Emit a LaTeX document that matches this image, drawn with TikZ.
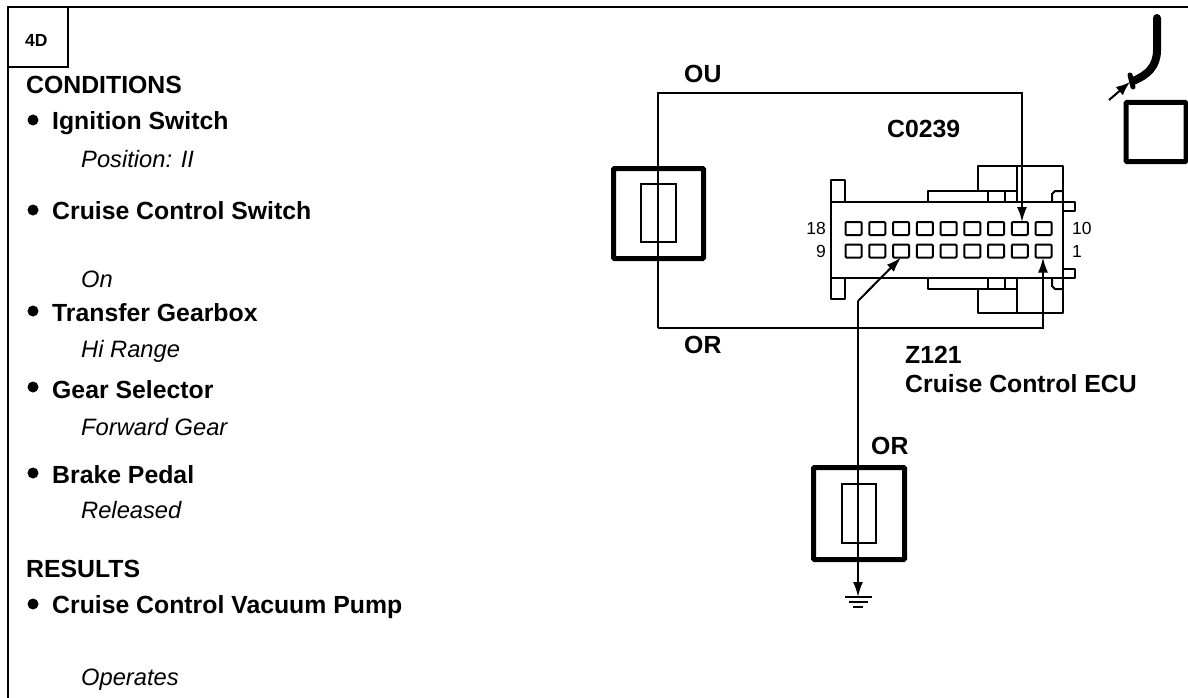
\documentclass[tikz,border=0pt]{standalone}
\usepackage{fontspec}
\setmainfont{Liberation Sans}
\usetikzlibrary{arrows.meta}
\tikzset{
  x=1pt,y=-1pt,
  hd/.style={anchor=base west,font=\fontsize{24.8}{28}\selectfont\bfseries,inner sep=0pt},
  it/.style={anchor=base west,font=\fontsize{23.7}{28}\selectfont\itshape,inner sep=0pt},
  num/.style={font=\fontsize{17.5}{20}\selectfont,inner sep=0pt},
  dotmark/.style={circle,fill=black,inner sep=0pt,minimum size=11pt},
  heavybox/.style={draw,line width=5pt,rounded corners=1pt,inner sep=0pt,outer sep=0pt},
  thinbox/.style={draw,line width=2pt,inner sep=0pt,outer sep=0pt},
  pinbox/.style={draw,line width=2pt,inner sep=0pt,outer sep=0pt,minimum width=16pt,minimum height=13pt,rounded corners=1pt},
  wire/.style={line width=2pt},
  tip/.style={-{Latex[length=15pt,width=10pt]}},
  part/.style={line width=2pt,line join=round},
}
\begin{document}
\begin{tikzpicture}
\useasboundingbox (0,0) rectangle (1188,698);
% frame
\coordinate (fa) at (8,698);\coordinate (fb) at (8,7);\coordinate (fc) at (1188,7);
\draw[line width=2pt] (fa) -- (fb) -- (fc);
\node[draw,line width=2pt,outer sep=0pt,anchor=north west,minimum width=60pt,minimum height=60pt,inner sep=0pt] (tagbox) at (8,7) {};
\node[anchor=base west,inner sep=0pt,font=\fontsize{17.5}{20}\selectfont\bfseries] (tag) at (25,47) {4D};
% left text
\node[hd] (t1) at (26,94) {CONDITIONS};
\node[dotmark] (d1) at (33,120) {};
\node[hd] (t2) at (52,130) {Ignition Switch};
\node[it] (t3) at (81,167) {Position: II};
\node[dotmark] (d2) at (33,210) {};
\node[hd] (t4) at (52,219) {Cruise Control Switch};
\node[it] (t5) at (81,287) {On};
\node[dotmark] (d3) at (33,311) {};
\node[hd] (t6) at (52,321) {Transfer Gearbox};
\node[it] (t7) at (81,357) {Hi Range};
\node[dotmark] (d4) at (33,387) {};
\node[hd] (t8) at (52,398) {Gear Selector};
\node[it] (t9) at (81,435) {Forward Gear};
\node[dotmark] (d5) at (33,473) {};
\node[hd] (t10) at (52,483) {Brake Pedal};
\node[it] (t11) at (81,518) {Released};
\node[hd] (t12) at (26,577) {RESULTS};
\node[dotmark] (d6) at (33,604) {};
\node[hd] (t13) at (52,613) {Cruise Control Vacuum Pump};
\node[it] (t14) at (81,685) {Operates};
% diagram labels
\node[hd] (ou) at (684,83) {OU};
\node[hd] (or1) at (684,353) {OR};
\node[hd] (cn) at (887,138) {C0239};
\node[hd] (z1) at (905,363) {Z121};
\node[hd] (z2) at (905,392) {Cruise Control ECU};
\node[hd] (or2) at (871,454) {OR};
% connector body
\node[draw,part,outer sep=0pt,minimum width=232pt,minimum height=76pt,inner sep=0pt,anchor=north west] (body) at (831,202) {};
\draw[part] (831,202) -- (831,180) -- (845,180) -- (845,202);
\draw[part] (831,278) -- (831,299) -- (845,299) -- (845,278);
\draw[part] (928,202) -- (928,191) -- (1017,191);
\draw[part] (928,278) -- (928,289) -- (1017,289);
\draw[part] (978,191) -- (978,166) -- (1063,166) -- (1063,202);
\draw[part] (978,289) -- (978,313) -- (1063,313) -- (1063,278);
\draw[part] (1017,166) -- (1017,202) (1017,278) -- (1017,313);
\draw[part] (988,191) -- (988,202) (1005,191) -- (1005,202);
\draw[part] (988,278) -- (988,289) (1005,278) -- (1005,289);
\draw[part] (1052,202) -- (1052,194) -- (1055,191) -- (1063,191);
\draw[part] (1052,278) -- (1052,286) -- (1055,289) -- (1063,289);
\draw[part] (1063,202) -- (1075,202) -- (1075,211) -- (1063,211);
\draw[part] (1063,269) -- (1075,269) -- (1075,278) -- (1063,278);
\foreach \i in {0,...,8}{
  \node[pinbox] (a\i) at ({853.5+23.75*\i},228.5) {};
  \node[pinbox] (b\i) at ({853.5+23.75*\i},251) {};
}
\node[num,anchor=east] (n18) at (826,228) {18};
\node[num,anchor=east] (n9) at (826,251) {9};
\node[num,anchor=west] (n10) at (1072,228) {10};
\node[num,anchor=west] (n1) at (1072,251) {1};
% switches
\node[heavybox,minimum width=90pt,minimum height=90pt,anchor=north west] (s1) at (613.5,168.5) {};
\node[thinbox,minimum width=35pt,minimum height=58pt,anchor=north west] (f1) at (641,184) {};
\node[heavybox,minimum width=91pt,minimum height=92pt,anchor=north west] (s2) at (813.5,467.5) {};
\node[thinbox,minimum width=34pt,minimum height=59pt,anchor=north west] (f2) at (842,484) {};
% wires
\coordinate (w1) at (658,93);\coordinate (w2) at (1022,93);
\coordinate (w3) at (658,328);\coordinate (w4) at (1043,328);
\draw[wire,tip] (w3) -- (w1) -- (w2) -- (w2 |- a7.north);
\draw[wire,tip] (w3) -- (w4) -- (w4 |- b8.south);
\coordinate (w5) at (858,301);\coordinate (g0) at (858,597);
\draw[wire,tip] (w5) -- (b2.south);
\draw[wire,tip] (w5) -- (g0);
% ground
\coordinate (g1) at (845,597);\coordinate (g2) at (872,597);
\coordinate (g3) at (849,602);\coordinate (g4) at (868,602);
\coordinate (g5) at (853,607);\coordinate (g6) at (863,607);
\draw[line width=2.2pt] (g1) -- (g2) (g3) -- (g4) (g5) -- (g6);
% top right pipe
\node[heavybox,minimum width=60pt,minimum height=59pt,anchor=north west] (sq) at (1126,102.5) {};
\coordinate (p0) at (1157,18);\coordinate (p1) at (1133,81);
\draw[line width=8pt,line cap=round] (p0) -- (1157,50) .. controls (1157,66) and (1148,75) .. (p1);
\coordinate (p2) at (1130,75);\coordinate (p3) at (1133,87);
\draw[line width=5pt,line cap=round] (p2) -- (p3);
\coordinate (p4) at (1109,100);\coordinate (p5) at (1130,82);
\draw[wire,-{Latex[length=14pt,width=11pt]}] (p4) -- (p5);
\end{tikzpicture}
\end{document}
